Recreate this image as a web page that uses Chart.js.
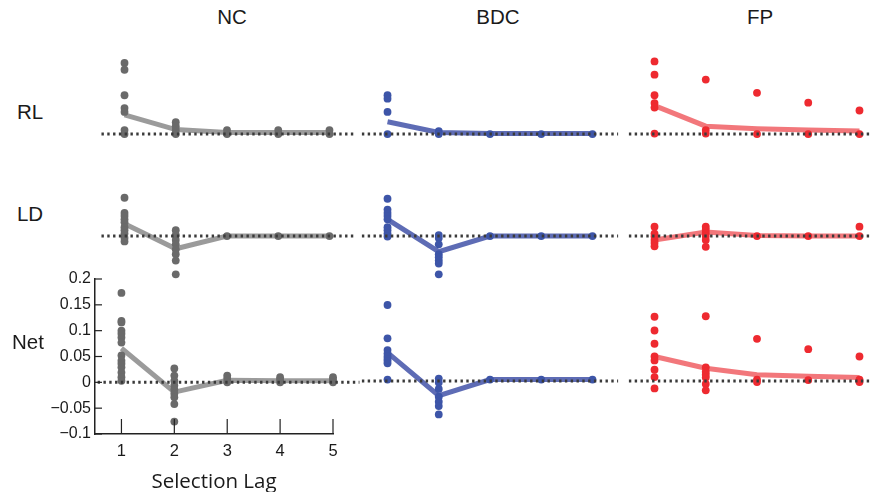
<!DOCTYPE html>
<html>
<head>
<meta charset="utf-8">
<script src="https://cdn.jsdelivr.net/npm/chart.js@4.4.1/dist/chart.umd.min.js"></script>
<style>
  html, body { margin:0; padding:0; background:#fff; }
  #wrap { position:relative; width:877px; height:492px; overflow:hidden; background:#fff; }
  canvas { position:absolute; }
  .lbl { position:absolute; font-family:"Liberation Sans", Arial, sans-serif; color:#1a1a1a; font-size:20.5px; transform:translate(-50%,-50%); white-space:nowrap; }
</style>
</head>
<body>
<div id="wrap"></div>
<script>
// ---------------- DATA ----------------
const lags = [1, 2, 3, 4, 5];
const columnTitles = ["NC", "BDC", "FP"];
const rowTitles = ["RL", "LD", "Net"];
const yTickValues = [-0.1, -0.05, 0, 0.05, 0.1, 0.15, 0.2];
const yTickLabels = ["\u22120.1", "\u22120.05", "0", "0.05", "0.1", "0.15", "0.2"];
const xAxisTitle = "Selection Lag";

// individual points, one list per lag
const ncRL  = [[0.145,0.131,0.079,0.053,0.045,0.008,0],[0.024,0.016,0.008,0],[0.008,0],[0.008,0],[0.008,0]];
const bdcRL = [[0.079,0.072,0.045,0],[0.006,0],[0],[0],[0]];
const fpRL  = [[0.148,0.121,0.079,0.063,0.054,0.001],[0.111,0.008,0.001],[0.084,0],[0.064,0],[0.048,0]];
const ncLD  = [[0.078,0.047,0.041,0.034,0.028,0.018,0.012,0.005,-0.004,-0.011],[0.012,0.002,-0.008,-0.017,-0.027,-0.037,-0.050,-0.078],[0],[0],[0]];
const bdcLD = [[0.076,0.054,0.047,0.041,0.034,0.018,0.012,0.005,-0.001],[0.002,-0.004,-0.017,-0.037,-0.043,-0.050,-0.056,-0.078],[0],[0],[0]];
const fpLD  = [[0.019,0.005,-0.001,-0.008,-0.014,-0.021],[0.019,0.013,0.006,0,-0.008,-0.022],[0],[0],[0.019,0]];
const ncNet = [[0.173,0.119,0.116,0.1,0.094,0.087,0.077,0.052,0.042,0.036,0.029,0.019,0.01,0.003],[0.027,0.013,0.003,-0.006,-0.014,-0.022,-0.029,-0.042,-0.076],[0.013,0.007,0],[0.01,0.005,0],[0.01,0.005,0]];
const bdcNet = [[0.155,0.087,0.063,0.056,0.05,0.045,0.041,0.036,0.003],[0.005,-0.003,-0.016,-0.032,-0.042,-0.051,-0.068],[0.003],[0.003],[0.003]];
const fpNet = [[0.131,0.103,0.076,0.05,0.042,0.023,0.008,-0.015],[0.132,0.028,0.019,0.013,0.007,-0.006,-0.019],[0.086,0.003,-0.002],[0.065,0.002],[0.05,0.003,-0.002]];

// means (lines)
const ncRLMean  = [0.039,0.009,0.003,0.003,0.003];
const bdcRLMean = [0.025,0.003,0.001,0.001,0.001];
const fpRLMean  = [0.058,0.016,0.011,0.008,0.006];
const ncLDMean  = [0.025,-0.026,0,0,0];
const bdcLDMean = [0.034,-0.032,0,0,0];
const fpLDMean  = [-0.008,0.008,0.001,0,0];
const ncNetMean  = [0.066,-0.019,0.004,0.003,0.003];
const bdcNetMean = [0.058,-0.030,0.003,0.003,0.003];
const fpNetMean  = [0.050,0.026,0.013,0.010,0.007];

// ---------------- STYLE / LAYOUT ----------------
const pointColors = ["#6a6a6a", "#3d55a8", "#ee2a30"];
const lineColors  = ["rgba(150,150,150,0.95)", "rgba(80,95,175,0.92)", "rgba(240,95,100,0.85)"];
const colX1 = [121.4, 384, 651];        // pixel of lag 1 for each column
const rowZero = [135, 237, 382.5];       // pixel of y = 0 for each row
const PX_X = 52.9;                       // pixels per lag
const PX_Y = 516.7;                      // pixels per unit
const zeroSpan = [[0.55, 5.5], [0.5, 5.5], [0.5, 5.2]];

const panels = [
  [[ncRL, ncRLMean], [bdcRL, bdcRLMean], [fpRL, fpRLMean]],
  [[ncLD, ncLDMean], [bdcLD, bdcLDMean], [fpLD, fpLDMean]],
  [[ncNet, ncNetMean], [bdcNet, bdcNetMean], [fpNet, fpNetMean]]
];

const wrap = document.getElementById('wrap');

function datasetsFor(pts, mean, c, span) {
  const scatter = [];
  pts.forEach((vals, i) => vals.forEach(v => scatter.push({x: lags[i], y: v})));
  return [
    { type:'line', data:[{x:span[0], y:0},{x:span[1], y:0}], borderColor:'#3a3a3a', borderWidth:3,
      borderDash:[2.4,3.4], borderCapStyle:'butt', pointRadius:0, clip:false, order:0 },
    { type:'scatter', data:scatter, backgroundColor:pointColors[c], borderWidth:0, pointRadius:3.9,
      pointHoverRadius:3.9, clip:false, order:1 },
    { type:'line', data:lags.map((l,i)=>({x:l, y:mean[i]})), borderColor:lineColors[c], borderWidth:5,
      pointRadius:0, tension:0, clip:false, order:2 }
  ];
}

const inwardTicks = {
  id:'inwardTicks',
  afterDraw(chart) {
    const ctx = chart.ctx, xs = chart.scales.x, ys = chart.scales.y, a = chart.chartArea;
    ctx.save();
    ctx.strokeStyle = '#222'; ctx.lineWidth = 1.2;
    yTickValues.forEach(v => { const p = ys.getPixelForValue(v);
      ctx.beginPath(); ctx.moveTo(a.left, p); ctx.lineTo(a.left + 7, p); ctx.stroke(); });
    lags.forEach(v => { const p = xs.getPixelForValue(v);
      ctx.beginPath(); ctx.moveTo(p, a.bottom); ctx.lineTo(p, a.bottom - 15); ctx.stroke(); });
    ctx.restore();
  }
};

function makeCanvas(left, top, w, h) {
  const cv = document.createElement('canvas');
  cv.width = w; cv.height = h;
  cv.style.left = left + 'px'; cv.style.top = top + 'px';
  cv.style.width = w + 'px'; cv.style.height = h + 'px';
  wrap.appendChild(cv);
  return cv;
}

for (let r = 0; r < 3; r++) {
  for (let c = 0; c < 3; c++) {
    const [pts, mean] = panels[r][c];
    const withAxes = (r === 2 && c === 0);
    let cv, options;
    if (!withAxes) {
      const w = 5 * PX_X, h = 0.3 * PX_Y;
      cv = makeCanvas(colX1[c] - 0.5 * PX_X, rowZero[r] - 0.2 * PX_Y, w, h);
      options = {
        responsive:false, animation:false, devicePixelRatio:1,
        layout:{ padding:0 },
        plugins:{ legend:{display:false}, tooltip:{enabled:false} },
        scales:{
          x:{ type:'linear', min:0.5, max:5.5, display:false },
          y:{ type:'linear', min:-0.1, max:0.2, display:false }
        }
      };
    } else {
      const left = 0, top = 260, w = 360, h = 232;
      cv = makeCanvas(left, top, w, h);
      const axisLeft = Math.round(colX1[0] - 0.5 * PX_X);             // 95
      const areaTop = Math.round(rowZero[2] - 0.2 * PX_Y);             // 279
      const areaBottom = Math.round(rowZero[2] + 0.1 * PX_Y);          // 434
      const areaRight = Math.round(colX1[0] + 4 * PX_X);               // 333
      options = {
        responsive:false, animation:false, devicePixelRatio:1,
        layout:{ padding:{ left:0, top: areaTop - top, right: left + w - areaRight, bottom:0 } },
        plugins:{ legend:{display:false}, tooltip:{enabled:false} },
        scales:{
          x:{ type:'linear', min:0.5, max:5,
              afterFit(s){ s.height = top + h - areaBottom; },
              afterBuildTicks(s){ s.ticks = lags.map(v=>({value:v})); },
              grid:{ display:false, drawTicks:false },
              border:{ display:true, color:'#222', width:1.5 },
              ticks:{ color:'#1a1a1a', padding:8, font:{ family:'"Liberation Sans", Arial, sans-serif', size:16.5 },
                      callback:(v)=>String(v) },
              title:{ display:true, text:xAxisTitle, color:'#1a1a1a', padding:{top:2, bottom:0},
                      font:{ family:'"Open Sans", sans-serif', size:20.5, lineHeight:1.0 } } },
          y:{ type:'linear', min:-0.1, max:0.2,
              afterFit(s){ s.width = axisLeft - left; },
              afterBuildTicks(s){ s.ticks = yTickValues.map(v=>({value:v})); },
              grid:{ display:false, drawTicks:false },
              border:{ display:true, color:'#222', width:1.5 },
              ticks:{ color:'#1a1a1a', padding:4, font:{ family:'"Liberation Sans", Arial, sans-serif', size:16 },
                      callback:(v)=>{ const i = yTickValues.findIndex(t=>Math.abs(t-v)<1e-9); return i>=0 ? yTickLabels[i] : ''; } } }
        }
      };
    }
    new Chart(cv.getContext('2d'), {
      type:'scatter',
      data:{ datasets: datasetsFor(pts, mean, c, zeroSpan[c]) },
      options,
      plugins: withAxes ? [inwardTicks] : []
    });
  }
}

// titles as text
const colTitleX = [232, 498, 760];
columnTitles.forEach((t,i)=>{ const d=document.createElement('div'); d.className='lbl'; d.textContent=t;
  d.style.left=colTitleX[i]+'px'; d.style.top='17px'; wrap.appendChild(d); });
const rowTitleY = [112, 214, 342];
rowTitles.forEach((t,i)=>{ const d=document.createElement('div'); d.className='lbl'; d.textContent=t;
  d.style.left=(i===2?28:30)+'px'; d.style.top=rowTitleY[i]+'px'; wrap.appendChild(d); });
</script>
</body>
</html>
